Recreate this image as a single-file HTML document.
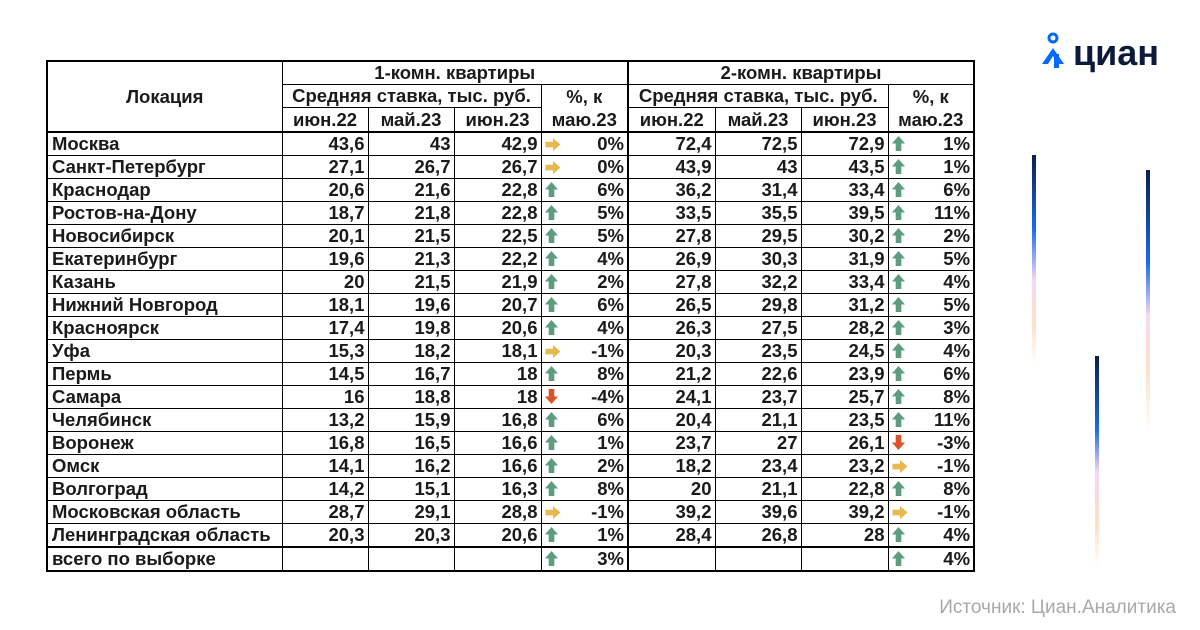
<!DOCTYPE html>
<html><head><meta charset="utf-8"><style>
body{margin:0;width:1200px;height:630px;background:#fff;position:relative;overflow:hidden;font-family:"Liberation Sans",sans-serif;}
table{position:absolute;left:46px;top:60px;border-collapse:collapse;border:2px solid #000;table-layout:fixed;width:928px;}
td{border:1px solid #000;padding:0 3px;font-size:18.5px;font-weight:bold;color:#1a1a1a;height:22px;line-height:20px;text-align:right;white-space:nowrap;overflow:hidden;}
td.l{text-align:left;padding-left:4px}
td.c{text-align:center}
td.a{border-right:none;text-align:left;padding:0 0 0 2px}
td.p{border-left:none}
tr.h td{text-align:center;height:22px}
tr.last td{border-bottom:2px solid #000}
.t td{border-top:2px solid #000}
.g2{border-left:2px solid #000 !important}
svg{display:inline-block;vertical-align:-2px}
.bar{position:absolute;width:4px;}
</style></head><body>
<svg width="0" height="0" style="position:absolute"><defs>
<symbol id="up" viewBox="0 0 16 18"><path d="M8 1 L15 9 L11 9 L11 17 L5 17 L5 9 L1 9Z" fill="#5e9c80"/></symbol>
<symbol id="rt" viewBox="0 0 18 16"><path d="M1 5 L9 5 L9 1 L17 8 L9 15 L9 11 L1 11Z" fill="#e8b94e"/></symbol>
<symbol id="dn" viewBox="0 0 16 18"><path d="M5 1 L11 1 L11 9 L15 9 L8 17 L1 9 L5 9Z" fill="#d9532b"/></symbol>
</defs></svg>
<table>
<colgroup><col style="width:235px"><col style="width:86px"><col style="width:86px"><col style="width:87px"><col style="width:24px"><col style="width:63px"><col style="width:87px"><col style="width:86px"><col style="width:87px"><col style="width:24px"><col style="width:62px"></colgroup>
<tr class="h"><td rowspan="3" class="c">Локация</td><td colspan="5">1-комн. квартиры</td><td colspan="5" class="g2">2-комн. квартиры</td></tr>
<tr class="h"><td colspan="3">Средняя ставка, тыс. руб.</td><td colspan="2" rowspan="2" style="line-height:23px">%, к<br>маю.23</td><td colspan="3" class="g2">Средняя ставка, тыс. руб.</td><td colspan="2" rowspan="2" style="line-height:23px">%, к<br>маю.23</td></tr>
<tr class="h"><td>июн.22</td><td>май.23</td><td>июн.23</td><td class="g2">июн.22</td><td>май.23</td><td>июн.23</td></tr>
<tbody id="b"></tbody>
</table>
<div class="bar" style="left:1032px;top:155px;height:210px;background:linear-gradient(#0a1f4a,#1a6bf0 35%,#f8d8f0 60%,#fde0c8 80%,#fff)"></div>
<div class="bar" style="left:1146px;top:170px;height:265px;background:linear-gradient(#0a1f4a,#1a6bf0 35%,#f8d8f0 55%,#fde0c8 75%,#fff)"></div>
<div class="bar" style="left:1095px;top:356px;height:212px;background:linear-gradient(#0a1f4a,#1a6bf0 35%,#f8d8f0 55%,#fde0c8 80%,#fff)"></div>
<div style="position:absolute;left:1040px;top:32px;width:30px;height:40px">
<svg width="30" height="40" viewBox="0 0 30 40"><circle cx="13" cy="6" r="4" fill="none" stroke="#0468ff" stroke-width="3"/><path d="M2 32 L13 16 L24 32 L18 32 L13 24 L8 32Z" fill="#0468ff"/><rect x="14" y="22" width="5" height="14" fill="#0468ff"/></svg></div>
<div style="position:absolute;left:1073px;top:32px;font-size:36px;font-weight:bold;color:#0b1a3a;letter-spacing:0px">циан</div>
<div style="position:absolute;right:24px;top:597px;font-size:19px;color:#a8a8a8">Источник: Циан.Аналитика</div>
<script>
const d=[["Москва","43,6","43","42,9","r","0%","72,4","72,5","72,9","u","1%"],
["Санкт-Петербург","27,1","26,7","26,7","r","0%","43,9","43","43,5","u","1%"],
["Краснодар","20,6","21,6","22,8","u","6%","36,2","31,4","33,4","u","6%"],
["Ростов-на-Дону","18,7","21,8","22,8","u","5%","33,5","35,5","39,5","u","11%"],
["Новосибирск","20,1","21,5","22,5","u","5%","27,8","29,5","30,2","u","2%"],
["Екатеринбург","19,6","21,3","22,2","u","4%","26,9","30,3","31,9","u","5%"],
["Казань","20","21,5","21,9","u","2%","27,8","32,2","33,4","u","4%"],
["Нижний Новгород","18,1","19,6","20,7","u","6%","26,5","29,8","31,2","u","5%"],
["Красноярск","17,4","19,8","20,6","u","4%","26,3","27,5","28,2","u","3%"],
["Уфа","15,3","18,2","18,1","r","-1%","20,3","23,5","24,5","u","4%"],
["Пермь","14,5","16,7","18","u","8%","21,2","22,6","23,9","u","6%"],
["Самара","16","18,8","18","d","-4%","24,1","23,7","25,7","u","8%"],
["Челябинск","13,2","15,9","16,8","u","6%","20,4","21,1","23,5","u","11%"],
["Воронеж","16,8","16,5","16,6","u","1%","23,7","27","26,1","d","-3%"],
["Омск","14,1","16,2","16,6","u","2%","18,2","23,4","23,2","r","-1%"],
["Волгоград","14,2","15,1","16,3","u","8%","20","21,1","22,8","u","8%"],
["Московская область","28,7","29,1","28,8","r","-1%","39,2","39,6","39,2","r","-1%"],
["Ленинградская область","20,3","20,3","20,6","u","1%","28,4","26,8","28","u","4%"],
["всего по выборке","","","","u","3%","","","","u","4%"]];
const ic={u:'<svg width="15" height="17"><use href="#up"/></svg>',r:'<svg width="18" height="15"><use href="#rt"/></svg>',d:'<svg width="15" height="17"><use href="#dn"/></svg>'};
let h="";d.forEach((r,i)=>{h+=`<tr class="${i==0?'t':''}${i==18?' t last':''}">`+
`<td class="l">${r[0]}</td><td>${r[1]}</td><td>${r[2]}</td><td>${r[3]}</td><td class="a">${ic[r[4]]}</td><td class="p">${r[5]}</td>`+
`<td class="g2">${r[6]}</td><td>${r[7]}</td><td>${r[8]}</td><td class="a">${ic[r[9]]}</td><td class="p">${r[10]}</td></tr>`});
document.getElementById("b").innerHTML=h;
</script>
</body></html>
